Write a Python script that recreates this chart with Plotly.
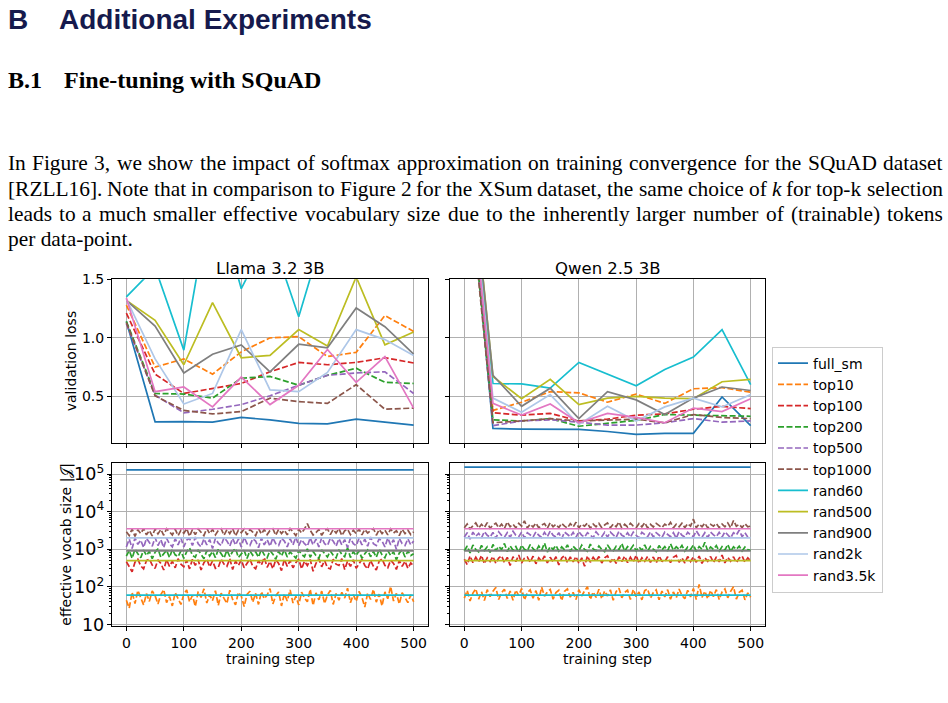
import numpy as np
import plotly.graph_objects as go

W, H = 948, 703

# ---------------- data ----------------
steps = [0, 50, 100, 150, 200, 250, 300, 350, 400, 450, 500]
tick_steps = [0, 100, 200, 300, 400, 500]
series_names = ["full_sm", "top10", "top100", "top200", "top500", "top1000",
                "rand60", "rand500", "rand900", "rand2k", "rand3.5k"]
colors = ["#1f77b4", "#ff7f0e", "#d62728", "#2ca02c", "#9467bd", "#8c564b",
          "#17becf", "#bcbd22", "#7f7f7f", "#aec7e8", "#e377c2"]
dashed = [False, True, True, True, True, True, False, False, False, False, False]

# validation loss, Llama 3.2 3B
llama_full_sm = [1.14, 0.283, 0.285, 0.28, 0.32, 0.30, 0.27, 0.265, 0.305, 0.28, 0.255]
llama_top10 = [1.28, 0.75, 0.82, 0.69, 0.88, 1.0, 1.01, 0.84, 0.876, 1.19, 1.055]
llama_top100 = [1.21, 0.69, 0.525, 0.565, 0.61, 0.71, 0.79, 0.77, 0.79, 0.83, 0.785]
llama_top200 = [1.14, 0.525, 0.52, 0.485, 0.655, 0.67, 0.595, 0.68, 0.74, 0.62, 0.61]
llama_top500 = [1.12, 0.51, 0.36, 0.39, 0.43, 0.505, 0.595, 0.68, 0.70, 0.71, 0.525]
llama_top1000 = [1.13, 0.505, 0.38, 0.35, 0.37, 0.485, 0.455, 0.44, 0.60, 0.39, 0.40]
llama_rand60 = [1.35, 1.6, 0.895, 2.3, 1.42, 1.9, 1.18, 2.0, 2.2, 2.1, 2.4]
llama_rand500 = [1.32, 1.15, 0.77, 1.30, 0.83, 0.85, 1.07, 0.93, 1.52, 0.94, 1.05]
llama_rand900 = [1.32, 1.10, 0.70, 0.86, 0.94, 0.71, 0.945, 0.915, 1.255, 1.095, 0.86]
llama_rand2k = [1.33, 0.82, 0.435, 0.525, 1.07, 0.555, 0.54, 0.705, 1.07, 0.985, 0.85]
llama_rand3_5k = [1.34, 0.54, 0.58, 0.41, 0.665, 0.43, 0.595, 0.90, 0.62, 0.84, 0.40]

# validation loss, Qwen 2.5 3B
qwen_full_sm = [2.9, 0.226, 0.22, 0.22, 0.218, 0.20, 0.176, 0.184, 0.184, 0.495, 0.25]
qwen_top10 = [2.7, 0.38, 0.45, 0.54, 0.53, 0.45, 0.52, 0.44, 0.565, 0.575, 0.535]
qwen_top100 = [2.8, 0.36, 0.34, 0.355, 0.29, 0.305, 0.34, 0.35, 0.39, 0.415, 0.395]
qwen_top200 = [2.75, 0.30, 0.29, 0.31, 0.245, 0.27, 0.295, 0.345, 0.34, 0.33, 0.33]
qwen_top500 = [2.85, 0.25, 0.29, 0.30, 0.28, 0.255, 0.255, 0.275, 0.31, 0.28, 0.29]
qwen_top1000 = [2.7, 0.275, 0.29, 0.31, 0.29, 0.30, 0.305, 0.275, 0.345, 0.32, 0.31]
qwen_rand60 = [3.0, 0.61, 0.606, 0.57, 0.79, 0.69, 0.59, 0.73, 0.835, 1.07, 0.60]
qwen_rand500 = [3.1, 0.67, 0.48, 0.645, 0.43, 0.485, 0.50, 0.485, 0.48, 0.625, 0.645]
qwen_rand900 = [3.05, 0.68, 0.415, 0.57, 0.31, 0.54, 0.47, 0.345, 0.485, 0.58, 0.55]
qwen_rand2k = [2.95, 0.485, 0.365, 0.515, 0.26, 0.415, 0.29, 0.41, 0.485, 0.41, 0.515]
qwen_rand3_5k = [2.9, 0.44, 0.34, 0.435, 0.275, 0.355, 0.32, 0.275, 0.40, 0.37, 0.48]

# effective vocabulary sizes
llama_vocab = 128256
qwen_vocab = 151936
rand_sizes = [60, 500, 900, 2000, 3500]

# top-k effective vocab per step, Llama
llama_v_top10 = [44,27,72,36,80,50,33,66,41,78,58,35,62,84,38,55,31,70,47,34,64,82,40,59,30,75,52,88,37,61,43,79,32,68,49,36,81,46,33,71,57,30,63,76,39,67,34,74,48,60,90,35,58,73,31,65,42,83,37,56,33,72,51,40,86,32,69,45,77,36,60,80,34,66,44,71,50,92,38,62,41,75,53,29,68,46,85,39,64,31,73,48,102,42,67,35,70,52,38,61,40]
llama_v_top100 = [470,330,250,450,540,360,300,500,550,380,310,520,420,280,530,350,480,320,560,400,340,510,300,540,370,520,280,440,550,340,490,310,330,540,400,350,560,290,480,370,520,320,410,550,350,300,500,380,600,330,470,300,530,420,270,540,350,500,320,440,550,300,480,370,530,260,420,560,340,500,320,300,540,400,370,560,290,480,350,520,310,420,540,370,300,500,350,280,480,550,370,320,510,420,290,500,350,480,310,430,360]
llama_v_top200 = [650,930,570,1000,760,590,950,680,880,560,830,1020,610,780,940,600,980,710,630,900,570,860,1080,680,610,960,750,560,920,660,870,600,990,730,580,940,640,870,1040,600,760,930,570,900,690,850,610,1000,710,590,920,740,540,890,660,970,620,850,700,580,930,730,630,1020,610,870,680,570,950,750,620,900,690,590,960,730,630,1100,600,860,680,910,570,760,940,630,870,610,990,710,590,920,680,860,520,790,960,620,890,680,760]
llama_v_top500 = [1150,1850,1050,2000,1350,1750,1100,1950,1500,1200,2050,1250,1800,1100,1950,1400,1150,1900,1300,2000,1150,1750,1950,1250,2100,1400,1150,1900,1300,1800,1050,1950,1450,1250,2050,1650,1200,1950,1300,1850,1150,2100,1400,1250,1900,1650,1100,2000,1300,1800,1200,2000,1400,1250,1950,1650,1150,1900,1300,2100,1250,1800,1400,1200,2000,1300,1850,1150,2050,1400,1250,1950,1650,1200,1900,1300,1800,1100,2000,1400,1250,1950,1300,1850,1200,2100,1400,1250,1900,1650,1150,2000,1300,1800,980,1950,1400,1250,1900,1300,1650]
llama_v_top1000 = [2900,2300,3450,2200,3300,2600,3550,2400,3150,2250,3450,2550,3350,2350,3500,2800,2400,3400,2300,3200,2650,3550,2200,3350,2450,3450,2900,2300,3600,2600,3350,2400,3150,3500,2350,3350,2600,3550,2250,3200,2750,3450,2400,3350,2850,2300,3550,2550,3350,2450,3150,3500,2350,3400,2600,3200,2400,3550,2900,2300,3400,2700,3450,4800,3200,2400,2750,3350,2350,3100,3500,2450,3350,2700,3550,2300,3100,3400,2450,3200,2600,3450,2400,3350,2700,3150,3550,2350,3350,2600,3200,2400,3450,2700,3100,2300,3400,2600,3200,2450,2900]

# top-k effective vocab per step, Qwen
qwen_v_top10 = [50,80,42,68,88,47,74,43,84,55,76,96,46,70,86,49,77,44,82,58,90,45,70,83,50,79,44,98,56,73,85,47,70,81,43,76,88,53,71,46,84,57,78,100,46,73,52,86,48,77,57,83,44,74,92,51,71,81,46,85,55,73,45,79,88,50,70,83,45,77,54,84,47,73,51,87,59,48,81,54,90,46,115,52,76,48,80,55,84,46,73,88,51,76,100,47,71,81,45,69,53]
qwen_v_top100 = [540,390,660,440,610,460,680,410,590,470,640,420,580,670,440,610,370,630,470,700,430,580,620,450,650,410,590,480,660,430,610,460,630,380,580,680,440,620,460,640,420,590,350,660,450,610,480,640,430,590,670,450,580,420,630,470,650,440,610,460,690,420,590,480,640,450,620,430,660,480,460,630,440,610,680,450,590,430,640,470,620,450,660,420,590,480,640,440,620,460,700,430,610,480,630,440,580,660,450,590,480]
qwen_v_top200 = [900,1220,800,1300,980,850,1260,920,1160,820,1340,910,1190,980,1420,860,1230,940,1170,810,1290,990,900,1330,1030,870,1220,940,1460,840,1180,990,1260,890,1150,960,1310,860,1200,1000,910,1280,980,880,1360,1020,910,1220,980,860,1300,1000,900,1190,980,1420,880,1170,990,1270,900,1150,940,1310,890,1190,1000,860,1250,960,1170,900,1390,940,1160,990,1260,890,1140,980,1300,880,1180,990,1520,900,1150,980,1240,890,1170,940,1340,880,1160,990,1210,900,1140,980,920]
qwen_v_top500 = [2100,2750,1850,2850,2200,2650,2000,2950,2350,2100,2800,1950,2900,2350,2100,2750,2050,3000,2350,2150,2850,2000,2750,2400,2100,2900,2350,2050,2800,2150,3050,2350,2100,2750,1900,2850,2400,2150,2800,2050,2950,2350,2100,2750,2400,2000,2900,2350,2150,2800,2100,2850,2400,2050,3000,2350,2150,2750,2100,2850,2350,2000,2800,2400,2150,2900,2100,2750,2350,2050,2850,2400,2150,2750,1950,2950,2350,2100,2800,2400,2150,3100,2350,2100,2750,2050,2850,2400,2150,2800,2100,2900,2350,2000,2750,2400,3200,2150,2750,2100,2350]
qwen_v_top1000 = [3700,4700,3500,4300,5000,3650,4600,3800,5100,3600,4400,4900,3750,4650,3550,5300,3950,4600,3700,4850,4100,5700,3650,4650,3900,4950,3700,4400,4800,3600,5100,3950,4600,3750,4900,4100,3650,4800,3900,5200,3700,4600,4100,4950,3600,4650,3950,4850,3750,4400,5000,3700,4650,3950,5300,3650,4600,3900,4900,4100,3700,4800,3950,5100,3650,4600,3900,4850,4150,3750,4650,4100,5150,3700,4600,3950,4900,3750,4800,4100,6300,3700,4650,3950,4950,3650,4600,4100,4850,3750,4650,3950,5000,3700,5800,4100,4600,3750,4800,3950,4100]

# page text
heading_num = "B"
heading_text = "Additional Experiments"
sub_num = "B.1"
sub_text = "Fine-tuning with SQuAD"
paragraph_lines = [
    "In Figure 3, we show the impact of softmax approximation on training convergence for the SQuAD dataset",
    "[RZLL16]. Note that in comparison to Figure 2 for the XSum dataset, the same choice of k for top-k selection",
    "leads to a much smaller effective vocabulary size due to the inherently larger number of (trainable) tokens",
    "per data-point.",
]
panel_titles = ["Llama 3.2 3B", "Qwen 2.5 3B"]

# ---------------- figure ----------------
def px(x):
    return x / W

def py(y):
    return 1 - y / H

FONT = "DejaVu Sans"
fig = go.Figure()

llama_loss = [llama_full_sm, llama_top10, llama_top100, llama_top200, llama_top500, llama_top1000,
              llama_rand60, llama_rand500, llama_rand900, llama_rand2k, llama_rand3_5k]
qwen_loss = [qwen_full_sm, qwen_top10, qwen_top100, qwen_top200, qwen_top500, qwen_top1000,
             qwen_rand60, qwen_rand500, qwen_rand900, qwen_rand2k, qwen_rand3_5k]
llama_topk = [llama_v_top10, llama_v_top100, llama_v_top200, llama_v_top500, llama_v_top1000]
qwen_topk = [qwen_v_top10, qwen_v_top100, qwen_v_top200, qwen_v_top500, qwen_v_top1000]

LW = 1.7
DASH = "6px,2.5px"

def line_style(i):
    return dict(color=colors[i], width=LW, dash=DASH if dashed[i] else "solid")

# top row: validation loss
for panel, (data, xa, ya) in enumerate([(llama_loss, "x", "y"), (qwen_loss, "x2", "y2")]):
    for i, name in enumerate(series_names):
        fig.add_trace(go.Scatter(
            x=steps, y=data[i], mode="lines", name=name, legendgroup=name,
            showlegend=(panel == 0), line=line_style(i), xaxis=xa, yaxis=ya))

# bottom row: effective vocab size
for panel, (vocab, topk, xa, ya) in enumerate([(llama_vocab, llama_topk, "x3", "y3"),
                                                (qwen_vocab, qwen_topk, "x4", "y4")]):
    for i, name in enumerate(series_names):
        if i == 0:
            xs, ys = [steps[0], steps[-1]], [vocab, vocab]
        elif i <= 5:
            arr = topk[i - 1]
            xs, ys = np.linspace(steps[0], steps[-1], len(arr)), arr
        else:
            r = rand_sizes[i - 6]
            xs, ys = [steps[0], steps[-1]], [r, r]
        fig.add_trace(go.Scatter(
            x=xs, y=ys, mode="lines", name=name, legendgroup=name,
            showlegend=False, line=line_style(i), xaxis=xa, yaxis=ya))

# ---------------- axes ----------------
X1 = [px(112), px(428)]
X2 = [px(450), px(765)]
YT = [py(446), py(278)]
YB = [py(633.3), py(466)]

tickfont = dict(family=FONT, size=14, color="black")

def xaxis(domain, anchor, labels):
    return dict(domain=domain, anchor=anchor, range=[-25, 525], tickmode="array",
                tickvals=tick_steps, ticktext=[str(t) for t in tick_steps],
                showticklabels=labels, ticks="outside", ticklen=4, tickwidth=1,
                tickcolor="black", showgrid=True, gridcolor="#b0b0b0", gridwidth=0.8,
                showline=True, linecolor="black", linewidth=1, mirror=True,
                zeroline=False, tickfont=tickfont)

def yaxis_lin(domain, anchor, labels):
    return dict(domain=domain, anchor=anchor, range=[0.1, 1.5], tickmode="array",
                tickvals=[0.5, 1.0, 1.5], ticktext=["0.5", "1.0", "1.5"],
                showticklabels=labels, ticks="outside", ticklen=4, tickwidth=1,
                tickcolor="black", showgrid=True, gridcolor="#b0b0b0", gridwidth=0.8,
                showline=True, linecolor="black", linewidth=1, mirror=True,
                zeroline=False, tickfont=tickfont)

def yaxis_log(domain, anchor, labels):
    return dict(domain=domain, anchor=anchor, type="log", range=[0.958, 5.30],
                dtick=1, exponentformat="power", showexponent="all",
                showticklabels=labels, ticks="outside", ticklen=4, tickwidth=1,
                tickcolor="black", showgrid=True, gridcolor="#b0b0b0", gridwidth=0.8,
                showline=True, linecolor="black", linewidth=1, mirror=True,
                zeroline=False, tickfont=tickfont,
                minor=dict(ticks="outside", ticklen=2, tickwidth=0.7, tickcolor="black",
                           dtick="D1", showgrid=False))

fig.update_layout(
    width=W, height=H, margin=dict(l=0, r=0, t=0, b=0),
    paper_bgcolor="white", plot_bgcolor="white",
    font=dict(family=FONT, size=14, color="black"),
    xaxis=xaxis(X1, "y", False), yaxis=yaxis_lin(YT, "x", True),
    xaxis2=xaxis(X2, "y2", False), yaxis2=yaxis_lin(YT, "x2", False),
    xaxis3=xaxis(X1, "y3", True), yaxis3=yaxis_log(YB, "x3", True),
    xaxis4=xaxis(X2, "y4", True), yaxis4=yaxis_log(YB, "x4", False),
    legend=dict(x=px(772), y=py(347), xanchor="left", yanchor="top",
                bgcolor="white", bordercolor="#cccccc", borderwidth=1,
                font=dict(family=FONT, size=14, color="black"),
                tracegroupgap=0, itemwidth=30),
    showlegend=True,
)

ann = []
def add_text(text, x, y, size, family=FONT, color="black", xanchor="center",
             yanchor="middle", angle=0):
    ann.append(dict(text=text, x=px(x), y=py(y), xref="paper", yref="paper",
                    showarrow=False, xanchor=xanchor, yanchor=yanchor, textangle=angle,
                    borderpad=0, font=dict(family=family, size=size, color=color)))

# chart texts
add_text(panel_titles[0], 270, 266.5, 16.5)
add_text(panel_titles[1], 607.5, 266.5, 16.5)
add_text("validation loss", 71, 362, 14, angle=-90)
add_text("effective vocab size |𝒥|", 67, 550, 14, angle=-90)
add_text("training step", 270, 667, 14)
add_text("training step", 607.5, 667, 14)

# page headings
NAVY = "#161a4d"
SANS = "Liberation Sans"
add_text("<b>" + heading_num + "</b>", 7, 12, 28, family=SANS, color=NAVY, xanchor="left")
add_text("<b>" + heading_text + "</b>", 58, 12, 28, family=SANS, color=NAVY, xanchor="left")
SERIF = "Liberation Serif"
add_text("<b>" + sub_num + "</b>", 6.5, 74, 24, family=SERIF, xanchor="left")
add_text("<b>" + sub_text + "</b>", 62.5, 74, 24, family=SERIF, xanchor="left")

# justified paragraph using Times New Roman metrics (Liberation Serif is metric compatible)
TNR = {" ": .25, ",": .25, ".": .25, "-": .333, "[": .333, "]": .333, "(": .333, ")": .333}
TNR.update({d: .5 for d in "0123456789"})
TNR.update(dict(zip("abcdefghijklmnopqrstuvwxyz",
                    [.444, .5, .444, .5, .444, .333, .5, .5, .278, .278, .5, .278, .778,
                     .5, .5, .5, .5, .333, .389, .278, .5, .5, .722, .5, .5, .444])))
TNR.update(dict(zip("ABCDEFGHIJKLMNOPQRSTUVWXYZ",
                    [.722, .667, .667, .722, .611, .556, .722, .722, .333, .389, .722, .611, .889,
                     .722, .722, .556, .722, .667, .556, .611, .722, .722, .944, .722, .722, .611])))

PFS = 21.4
LEFT, RIGHT = 6.5, 941.7
line_centers = [159, 185, 211, 237]
for li, line in enumerate(paragraph_lines):
    words = line.split()
    yc = line_centers[li]
    if li == len(paragraph_lines) - 1:
        add_text(line, LEFT, yc, PFS, family=SERIF, xanchor="left")
        continue
    widths = [(0.444 if w == "k" else sum(TNR.get(c, .5) for c in w)) * PFS for w in words]
    gap = (RIGHT - LEFT - sum(widths)) / (len(words) - 1)
    xcur = LEFT
    for w, wd in zip(words, widths):
        t = "<i>k</i>" if w == "k" else w
        add_text(t, xcur, yc, PFS, family=SERIF, xanchor="left")
        xcur += wd + gap

fig.update_layout(annotations=ann)
fig.write_html("out.html")
